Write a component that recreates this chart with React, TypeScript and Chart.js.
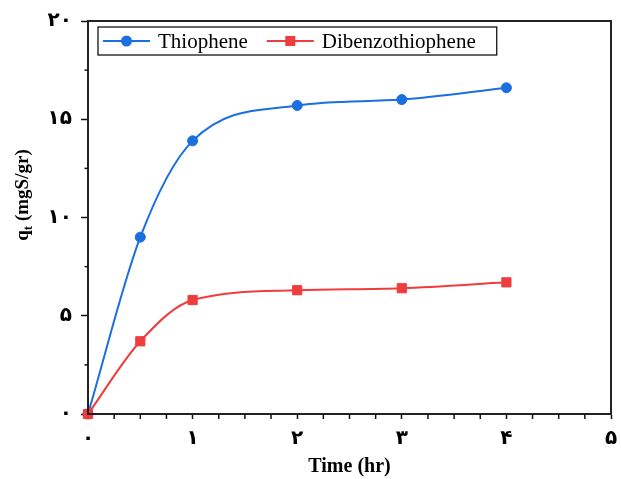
import React, { useEffect, useRef } from 'react';
import { Chart, registerables } from 'chart.js';

Chart.register(...registerables);

// ---- data ----
const times = [0, 0.5, 1, 2, 3, 4];
const thiophene = [0, 9.0, 13.9, 15.7, 16.0, 16.6];
const dibenzothiophene = [0, 3.7, 5.8, 6.3, 6.4, 6.7];
const seriesNames = ['Thiophene', 'Dibenzothiophene'];
const seriesColors = ['#1b6fe0', '#ef3d3d'];
const seriesMarkers = ['circle', 'rect'];

const xTickValues = [0, 1, 2, 3, 4, 5];
const xTickLabels = ['۰', '۱', '۲', '۳', '۴', '۵'];
const yTickValues = [0, 5, 10, 15, 20];
const yTickLabels = ['۰', '۵', '۱۰', '۱۵', '۲۰'];
const xMinorStep = 0.25;
const yMinorStep = 2.5;

const xTitle = 'Time (hr)';
const yTitleMain = 'q';
const yTitleSub = 't';
const yTitleRest = ' (mgS/gr)';

const W = 621;
const H = 479;

const decorPlugin = {
  id: 'decor',
  afterDraw(chart: any) {
    const ctx: CanvasRenderingContext2D = chart.ctx;
    const area = chart.chartArea;
    const xs = chart.scales.x;
    const ys = chart.scales.y;
    ctx.save();
    // frame
    ctx.strokeStyle = '#222';
    ctx.lineWidth = 2;
    ctx.strokeRect(area.left, area.top, area.right - area.left, area.bottom - area.top);

    // minor ticks
    ctx.lineWidth = 1.5;
    ctx.strokeStyle = '#111';
    for (let v = xs.min; v <= xs.max + 1e-9; v += xMinorStep) {
      if (Math.abs(v - Math.round(v)) < 1e-9) continue;
      const px = xs.getPixelForValue(v);
      ctx.beginPath();
      ctx.moveTo(px, area.bottom);
      ctx.lineTo(px, area.bottom + 5);
      ctx.stroke();
    }
    for (let v = ys.min; v <= ys.max + 1e-9; v += yMinorStep) {
      if (Math.abs(v / 5 - Math.round(v / 5)) < 1e-9) continue;
      const py = ys.getPixelForValue(v);
      ctx.beginPath();
      ctx.moveTo(area.left - 3.5, py);
      ctx.lineTo(area.left, py);
      ctx.stroke();
    }

    // y title with subscript
    ctx.fillStyle = '#000';
    ctx.textBaseline = 'alphabetic';
    const mainFont = 'bold 19px "Liberation Serif"';
    const subFont = 'bold 13px "Liberation Serif"';
    ctx.font = mainFont;
    const wq = ctx.measureText(yTitleMain).width;
    const wr = ctx.measureText(yTitleRest).width;
    ctx.font = subFont;
    const wt = ctx.measureText(yTitleSub).width;
    const total = wq + wt + wr;
    ctx.translate(28, 195);
    ctx.rotate(-Math.PI / 2);
    let cx = -total / 2;
    ctx.font = mainFont;
    ctx.fillText(yTitleMain, cx, 0);
    cx += wq;
    ctx.font = subFont;
    ctx.fillText(yTitleSub, cx, 4);
    cx += wt;
    ctx.font = mainFont;
    ctx.fillText(yTitleRest, cx, 0);
    ctx.setTransform(1, 0, 0, 1, 0, 0);

    // legend
    const lx = area.left + 10;
    const ly = area.top + 6;
    const lh = 28;
    const lineLen = 47;
    ctx.font = '21px "Liberation Serif"';
    let x = lx + 5;
    const midY = ly + lh / 2;
    const items: { x: number }[] = [];
    seriesNames.forEach((name) => {
      items.push({ x });
      const tw = ctx.measureText(name).width;
      x += lineLen + 8 + tw + 19;
    });
    const boxW = x - 19 + 21 - lx;
    ctx.fillStyle = '#fff';
    ctx.fillRect(lx, ly, boxW, lh);
    ctx.strokeStyle = '#000';
    ctx.lineWidth = 1.2;
    ctx.strokeRect(lx, ly, boxW, lh);
    seriesNames.forEach((name, i) => {
      const sx = items[i].x;
      ctx.strokeStyle = seriesColors[i];
      ctx.lineWidth = 2;
      ctx.beginPath();
      ctx.moveTo(sx, midY);
      ctx.lineTo(sx + lineLen, midY);
      ctx.stroke();
      ctx.fillStyle = seriesColors[i];
      const mx = sx + lineLen / 2;
      if (seriesMarkers[i] === 'circle') {
        ctx.beginPath();
        ctx.arc(mx, midY, 5.5, 0, Math.PI * 2);
        ctx.fill();
      } else {
        ctx.fillRect(mx - 5, midY - 5, 10, 10);
      }
      ctx.fillStyle = '#000';
      ctx.textBaseline = 'middle';
      ctx.fillText(name, sx + lineLen + 8, midY + 1);
    });
    ctx.restore();
  },
};

export default function App() {
  const ref = useRef<HTMLCanvasElement | null>(null);
  useEffect(() => {
    document.body.style.margin = '0';
    const canvas = ref.current;
    if (!canvas) return;
    const mk = (vals: number[]) => times.map((t, i) => ({ x: t, y: vals[i] }));
    const chart = new Chart(canvas, {
      type: 'line',
      data: {
        datasets: [
          {
            label: seriesNames[0],
            data: mk(thiophene),
            borderColor: seriesColors[0],
            backgroundColor: seriesColors[0],
            pointBackgroundColor: seriesColors[0],
            pointBorderColor: seriesColors[0],
            pointStyle: 'circle',
            pointRadius: 5,
            pointBorderWidth: 1,
            borderWidth: 2,
            cubicInterpolationMode: 'monotone',
            clip: false as any,
            order: 1,
          },
          {
            label: seriesNames[1],
            data: mk(dibenzothiophene),
            borderColor: seriesColors[1],
            backgroundColor: seriesColors[1],
            pointBackgroundColor: seriesColors[1],
            pointBorderColor: seriesColors[1],
            pointStyle: 'rect',
            pointRadius: 6.5,
            pointBorderWidth: 1,
            borderWidth: 2,
            cubicInterpolationMode: 'monotone',
            clip: false as any,
            order: 0,
          },
        ],
      },
      options: {
        responsive: false,
        animation: false,
        layout: { padding: { left: 0, right: 10, top: 21, bottom: 0 } },
        plugins: {
          legend: { display: false },
          tooltip: { enabled: false },
        },
        scales: {
          x: {
            type: 'linear',
            min: 0,
            max: 5,
            afterBuildTicks: (scale: any) => {
              scale.ticks = xTickValues.map((v) => ({ value: v }));
            },
            afterFit: (scale: any) => {
              scale.height = 65;
              scale.paddingLeft = 0;
              scale.paddingRight = 0;
            },
            ticks: {
              autoSkip: false,
              maxRotation: 0,
              padding: 8,
              color: '#000',
              font: { family: '"DejaVu Sans"', size: 20, weight: 'bold' },
              callback: (value: any) => {
                const i = xTickValues.indexOf(Number(value));
                return i >= 0 ? xTickLabels[i] : '';
              },
            },
            grid: {
              drawOnChartArea: false,
              drawTicks: true,
              tickLength: 5,
              tickWidth: 1.5,
              tickColor: '#111',
            },
            border: { display: true, color: '#222', width: 2 },
            title: {
              display: true,
              text: xTitle,
              color: '#000',
              padding: 0,
              font: { family: '"Liberation Serif"', size: 20, weight: 'bold' },
            },
          },
          y: {
            type: 'linear',
            min: 0,
            max: 20,
            afterBuildTicks: (scale: any) => {
              scale.ticks = yTickValues.map((v) => ({ value: v }));
            },
            afterFit: (scale: any) => {
              scale.width = 88;
              scale.paddingTop = 0;
              scale.paddingBottom = 0;
            },
            ticks: {
              autoSkip: false,
              padding: 9,
              color: '#000',
              font: { family: '"DejaVu Sans"', size: 20, weight: 'bold' },
              callback: (value: any) => {
                const i = yTickValues.indexOf(Number(value));
                return i >= 0 ? yTickLabels[i] : '';
              },
            },
            grid: {
              drawOnChartArea: false,
              drawTicks: true,
              tickLength: 7,
              tickWidth: 1.5,
              tickColor: '#111',
            },
            border: { display: true, color: '#222', width: 2 },
            title: { display: false },
          },
        },
      },
      plugins: [decorPlugin],
    });
    return () => chart.destroy();
  }, []);
  return (
    <div style={{ width: W, height: H }}>
      <canvas ref={ref} width={W} height={H} style={{ width: W, height: H, display: 'block' }} />
    </div>
  );
}
